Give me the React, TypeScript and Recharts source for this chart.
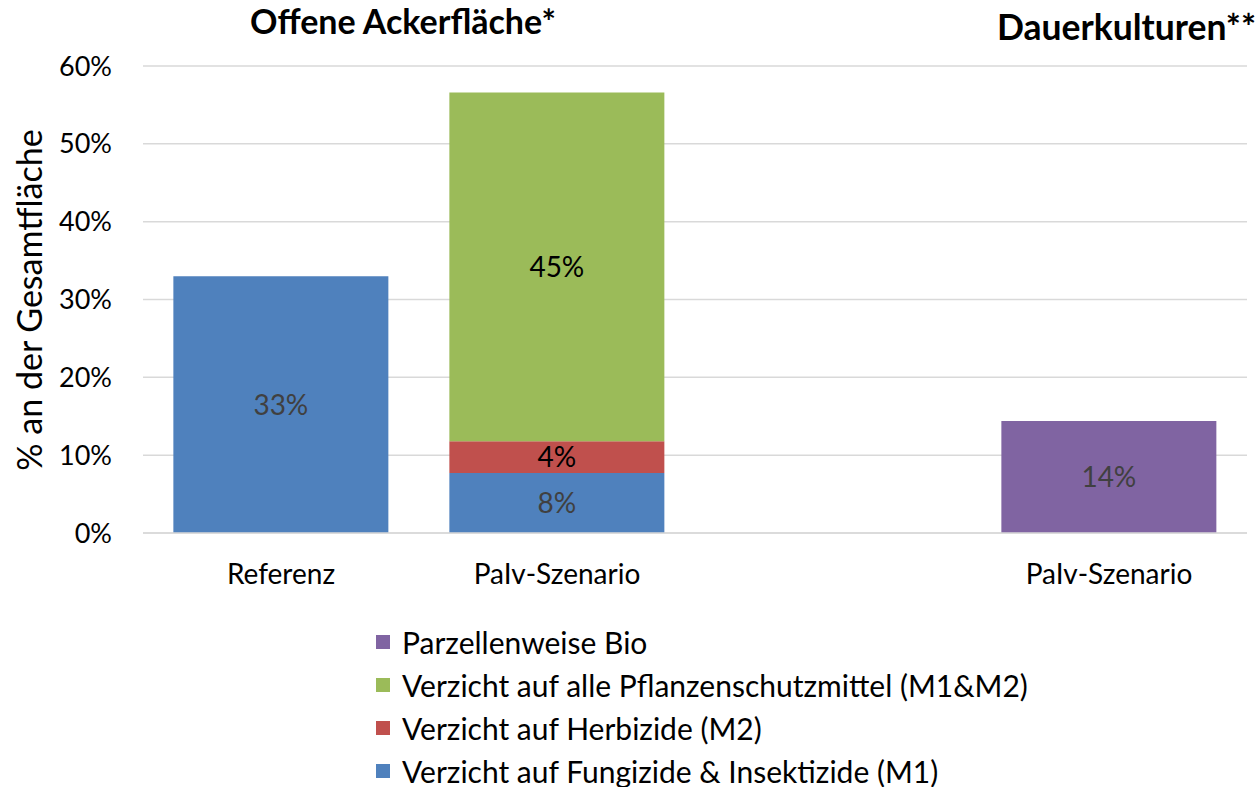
import { Bar, BarChart, CartesianGrid, LabelList, Legend, XAxis, YAxis } from "recharts";

const categories = ["Referenz", "PaIv-Szenario", "", "PaIv-Szenario"];
const fungInsekt = [33, 7.7, null, null];
const herbizide = [null, 4.1, null, null];
const allePsm = [null, 44.8, null, null];
const bio = [null, null, null, 14.4];
const yTicks = [0, 10, 20, 30, 40, 50, 60];

const series = [
	{ key: "m1", name: "Verzicht auf Fungizide & Insektizide (M1)", color: "#4F81BD", label: "#404040" },
	{ key: "m2", name: "Verzicht auf Herbizide (M2)", color: "#C0504D", label: "#000000" },
	{ key: "all", name: "Verzicht auf alle Pflanzenschutzmittel (M1&M2)", color: "#9BBB59", label: "#000000" },
	{ key: "bio", name: "Parzellenweise Bio", color: "#8064A2", label: "#404040" },
];

const data = categories.map((cat, i) => ({
	cat,
	m1: fungInsekt[i],
	m2: herbizide[i],
	all: allePsm[i],
	bio: bio[i],
}));

const FONT = "Lato, 'Open Sans', sans-serif";

const renderLegend = () => (
	<div style={{ fontFamily: FONT, fontSize: 30, color: "#000" }}>
		{[...series].reverse().map((s) => (
			<div key={s.key} style={{ display: "flex", alignItems: "center", height: 43 }}>
				<span style={{ width: 14, height: 14, background: s.color, marginRight: 12, display: "inline-block" }} />
				<span>{s.name}</span>
			</div>
		))}
	</div>
);

export default function App() {
	return (
		<div style={{ position: "absolute", left: 0, top: 0, width: 1260, height: 787, background: "#fff" }}>
			<BarChart
				width={1260}
				height={787}
				data={data}
				margin={{ top: 66, right: 13, bottom: 224, left: 0 }}
				barCategoryGap="11%"
			>
				<CartesianGrid vertical={false} stroke="#D9D9D9" strokeWidth={1.5} />
				<XAxis
					dataKey="cat"
					height={30}
					axisLine={{ stroke: "#D9D9D9", strokeWidth: 1.5 }}
					tickLine={false}
					tickSize={0}
					tickMargin={31}
					interval={0}
					tick={{ fill: "#000", fontSize: 28, fontFamily: FONT }}
				/>
				<YAxis
					domain={[0, 60]}
					ticks={yTicks}
					width={143}
					axisLine={false}
					tickLine={false}
					tickSize={0}
					tickMargin={31}
					tickFormatter={(v: number) => `${v}%`}
					tick={{ fill: "#000", fontSize: 27, fontFamily: FONT }}
				/>
				<Legend
					layout="vertical"
					align="center"
					verticalAlign="middle"
					content={renderLegend}
					wrapperStyle={{ position: "absolute", left: 376, top: 620, width: 800 }}
				/>
				{series.map((s) => (
					<Bar key={s.key} dataKey={s.key} name={s.name} stackId="a" fill={s.color} isAnimationActive={false}>
						<LabelList
							dataKey={s.key}
							position="center"
							formatter={(v: any) => (v == null ? "" : `${Math.round(v)}%`)}
							fill={s.label}
							style={{ fontSize: 28, fontFamily: FONT }}
						/>
					</Bar>
				))}
			</BarChart>
			<svg width={1260} height={787} style={{ position: "absolute", left: 0, top: 0, pointerEvents: "none" }}>
				<text x={403} y={34} textAnchor="middle" fontFamily={FONT} fontSize={34} fontWeight="bold">
					Offene Ackerfläche*
				</text>
				<text x={1256} y={40} textAnchor="end" fontFamily={FONT} fontSize={35.5} fontWeight="bold">
					Dauerkulturen**
				</text>
				<text
					x={0}
					y={0}
					transform="translate(42 300) rotate(-90)"
					textAnchor="middle"
					fontFamily={FONT}
					fontSize={34}
				>
					% an der Gesamtfläche
				</text>
			</svg>
		</div>
	);
}
